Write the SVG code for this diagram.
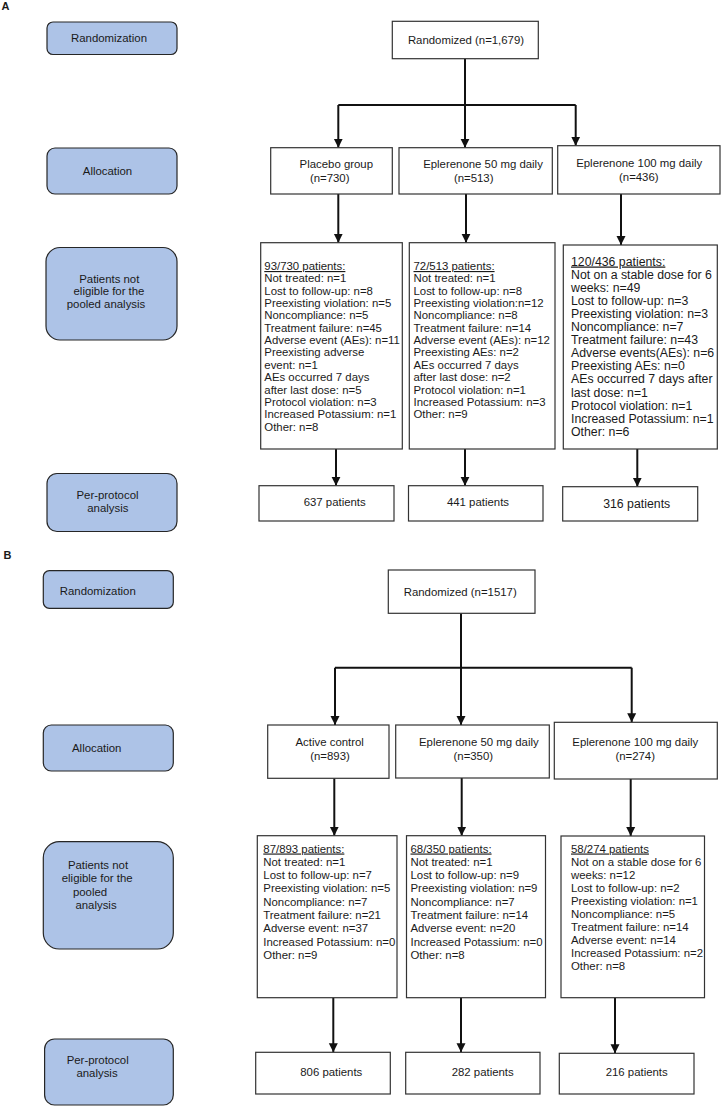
<svg xmlns="http://www.w3.org/2000/svg" width="721" height="1107" viewBox="0 0 721 1107">
<defs>
<style>
.lbl{fill:#adc3e7;stroke:#262626;stroke-width:1.2}
.box{fill:#fff;stroke:#333;stroke-width:1.2}
text{font-family:"Liberation Sans",Arial,sans-serif;font-size:11.4px;fill:#1a1a1a}
.c{text-anchor:middle}
.h{font-weight:bold;font-size:11px}
.u{text-decoration:underline}
.big{font-size:12.3px}
.conn path{stroke:#111;stroke-width:2;fill:none}
</style>
<marker id="ah" markerUnits="userSpaceOnUse" markerWidth="10" markerHeight="10" refX="9" refY="5" orient="auto"><path d="M0,0.5 L9,5 L0,9.5 z" fill="#111"/></marker>
</defs>
<rect width="721" height="1107" fill="#fff"/>

<text class="h" x="1.5" y="10">A</text>
<text class="h" x="3.5" y="559">B</text>

<g id="conn-a" class="conn">
<path d="M465,58.7 V105"/>
<path d="M338.3,105 H575.7"/>
<path d="M338.3,105 V147.7" marker-end="url(#ah)"/>
<path d="M465,105 V147.7" marker-end="url(#ah)"/>
<path d="M575.7,105 V145.7" marker-end="url(#ah)"/>
<path d="M338.3,194 V242.7" marker-end="url(#ah)"/>
<path d="M466,194 V242.7" marker-end="url(#ah)"/>
<path d="M621,194 V245" marker-end="url(#ah)"/>
<path d="M336,449 V485.7" marker-end="url(#ah)"/>
<path d="M465,449 V485.7" marker-end="url(#ah)"/>
<path d="M637.3,449 V486.7" marker-end="url(#ah)"/>
</g>

<g id="conn-b" class="conn">
<path d="M461,613.3 V667.7"/>
<path d="M335,667.7 H631.7"/>
<path d="M335,667.7 V725" marker-end="url(#ah)"/>
<path d="M461,667.7 V725" marker-end="url(#ah)"/>
<path d="M631.7,667.7 V722.3" marker-end="url(#ah)"/>
<path d="M334.3,778.3 V835.7" marker-end="url(#ah)"/>
<path d="M461.7,778 V835.7" marker-end="url(#ah)"/>
<path d="M630.7,779 V836" marker-end="url(#ah)"/>
<path d="M333.3,997.7 V1052.3" marker-end="url(#ah)"/>
<path d="M461,997.7 V1052.3" marker-end="url(#ah)"/>
<path d="M615,997.7 V1053.3" marker-end="url(#ah)"/>
</g>

<!-- Part A labels -->
<g id="a-lbl-rand"><rect class="lbl" x="47" y="22" width="130" height="32.5" rx="6"/><text class="c" x="109" y="42">Randomization</text></g>
<g id="a-lbl-alloc"><rect class="lbl" x="47" y="148" width="130" height="46" rx="8"/><text class="c" x="107.5" y="175">Allocation</text></g>
<g id="a-lbl-excl"><rect class="lbl" x="46" y="247.5" width="131" height="92.5" rx="14"/>
<text class="c" x="109.3" y="282.5">Patients not</text>
<text class="c" x="109" y="295">eligible for the</text>
<text class="c" x="106" y="307.5">pooled analysis</text></g>
<g id="a-lbl-pp"><rect class="lbl" x="47" y="473.5" width="130" height="58" rx="10"/>
<text class="c" x="107.5" y="498.5">Per-protocol</text>
<text class="c" x="107.8" y="511.5">analysis</text></g>

<!-- Part A flow -->
<g id="a-rand"><rect class="box" x="392.3" y="21.3" width="146" height="37.4"/><text class="c" x="466" y="44">Randomized (n=1,679)</text></g>
<g id="a-placebo"><rect class="box" x="270.7" y="147.7" width="121.6" height="46.3"/>
<text class="c" x="336.3" y="168">Placebo group</text><text class="c" x="329.7" y="182">(n=730)</text></g>
<g id="a-ep50"><rect class="box" x="399" y="147.7" width="153.3" height="46.3"/>
<text class="c" x="483" y="168">Eplerenone 50 mg daily</text><text class="c" x="473.7" y="182">(n=513)</text></g>
<g id="a-ep100"><rect class="box" x="557.7" y="145.7" width="162.3" height="48.3"/>
<text class="c" x="639.2" y="167">Eplerenone 100 mg daily</text><text class="c" x="638.8" y="181">(n=436)</text></g>

<g id="a-excl-placebo"><rect class="box" x="260.7" y="242.7" width="141.6" height="206.3"/>
<text x="264.3" y="270"><tspan class="u">93/730 patients:</tspan>
<tspan x="264.3" dy="12.35">Not treated: n=1</tspan>
<tspan x="264.3" dy="12.35">Lost to follow-up: n=8</tspan>
<tspan x="264.3" dy="12.35">Preexisting violation: n=5</tspan>
<tspan x="264.3" dy="12.35">Noncompliance: n=5</tspan>
<tspan x="264.3" dy="12.35">Treatment failure: n=45</tspan>
<tspan x="264.3" dy="12.35">Adverse event (AEs): n=11</tspan>
<tspan x="264.3" dy="12.35">Preexisting adverse</tspan>
<tspan x="264.3" dy="12.35">event: n=1</tspan>
<tspan x="264.3" dy="12.35">AEs occurred 7 days</tspan>
<tspan x="264.3" dy="12.35">after last dose: n=5</tspan>
<tspan x="264.3" dy="12.35">Protocol violation: n=3</tspan>
<tspan x="264.3" dy="12.35">Increased Potassium: n=1</tspan>
<tspan x="264.3" dy="12.35">Other: n=8</tspan></text></g>

<g id="a-excl-ep50"><rect class="box" x="409.3" y="242.7" width="145.7" height="206.3"/>
<text x="413.5" y="270"><tspan class="u">72/513 patients:</tspan>
<tspan x="413.5" dy="12.35">Not treated: n=1</tspan>
<tspan x="413.5" dy="12.35">Lost to follow-up: n=8</tspan>
<tspan x="413.5" dy="12.35">Preexisting violation:n=12</tspan>
<tspan x="413.5" dy="12.35">Noncompliance: n=8</tspan>
<tspan x="413.5" dy="12.35">Treatment failure: n=14</tspan>
<tspan x="413.5" dy="12.35">Adverse event (AEs): n=12</tspan>
<tspan x="413.5" dy="12.35">Preexisting AEs: n=2</tspan>
<tspan x="413.5" dy="12.35">AEs occurred 7 days</tspan>
<tspan x="413.5" dy="12.35">after last dose: n=2</tspan>
<tspan x="413.5" dy="12.35">Protocol violation: n=1</tspan>
<tspan x="413.5" dy="12.35">Increased Potassium: n=3</tspan>
<tspan x="413.5" dy="12.35">Other: n=9</tspan></text></g>

<g id="a-excl-ep100"><rect class="box" x="563.3" y="245" width="154" height="204"/>
<text class="big" x="571" y="265.5"><tspan class="u">120/436 patients:</tspan>
<tspan x="571" dy="13.1">Not on a stable dose for 6</tspan>
<tspan x="571" dy="13.1">weeks: n=49</tspan>
<tspan x="571" dy="13.1">Lost to follow-up: n=3</tspan>
<tspan x="571" dy="13.1">Preexisting violation: n=3</tspan>
<tspan x="571" dy="13.1">Noncompliance: n=7</tspan>
<tspan x="571" dy="13.1">Treatment failure: n=43</tspan>
<tspan x="571" dy="13.1">Adverse events(AEs): n=6</tspan>
<tspan x="571" dy="13.1">Preexisting AEs: n=0</tspan>
<tspan x="571" dy="13.1">AEs occurred 7 days after</tspan>
<tspan x="571" dy="13.1">last dose: n=1</tspan>
<tspan x="571" dy="13.1">Protocol violation: n=1</tspan>
<tspan x="571" dy="13.1">Increased Potassium: n=1</tspan>
<tspan x="571" dy="13.1">Other: n=6</tspan></text></g>

<g id="a-pp-placebo"><rect class="box" x="259" y="485.7" width="135" height="35.3"/><text class="c" x="334.7" y="506">637 patients</text></g>
<g id="a-pp-ep50"><rect class="box" x="408.5" y="485.7" width="134.5" height="35.3"/><text class="c" x="478" y="506">441 patients</text></g>
<g id="a-pp-ep100"><rect class="box" x="562.7" y="486.7" width="135" height="34.3"/><text class="c big" x="636.7" y="508">316 patients</text></g>

<!-- Part B labels -->
<g id="b-lbl-rand"><rect class="lbl" x="43.3" y="570.7" width="130" height="37.6" rx="6"/><text class="c" x="97.8" y="594.5">Randomization</text></g>
<g id="b-lbl-alloc"><rect class="lbl" x="43.3" y="725" width="130" height="46" rx="8"/><text class="c" x="96.7" y="751.5">Allocation</text></g>
<g id="b-lbl-excl"><rect class="lbl" x="43.3" y="841.7" width="130" height="107.3" rx="16"/>
<text class="c" x="98" y="868.5">Patients not</text>
<text class="c" x="97.2" y="882">eligible for the</text>
<text class="c" x="90" y="895.5">pooled</text>
<text class="c" x="96" y="909">analysis</text></g>
<g id="b-lbl-pp"><rect class="lbl" x="44.6" y="1039" width="128.7" height="66" rx="10"/>
<text class="c" x="97.7" y="1064">Per-protocol</text>
<text class="c" x="97" y="1077.3">analysis</text></g>

<!-- Part B flow -->
<g id="b-rand"><rect class="box" x="388.3" y="570" width="146.7" height="43.3"/><text class="c" x="460.2" y="595.5">Randomized (n=1517)</text></g>
<g id="b-active"><rect class="box" x="267.7" y="725" width="121.3" height="53.3"/>
<text class="c" x="329.7" y="746">Active control</text><text class="c" x="330" y="760">(n=893)</text></g>
<g id="b-ep50"><rect class="box" x="395.7" y="725" width="153.6" height="53"/>
<text class="c" x="478.8" y="746">Eplerenone 50 mg daily</text><text class="c" x="473.3" y="760">(n=350)</text></g>
<g id="b-ep100"><rect class="box" x="554.3" y="722.3" width="163" height="56.7"/>
<text class="c" x="635.3" y="746">Eplerenone 100 mg daily</text><text class="c" x="635.2" y="760">(n=274)</text></g>

<g id="b-excl-active"><rect class="box" x="257.3" y="835.7" width="139.7" height="162"/>
<text x="263.3" y="852.5"><tspan class="u">87/893 patients:</tspan>
<tspan x="263.3" dy="13.3">Not treated: n=1</tspan>
<tspan x="263.3" dy="13.3">Lost to follow-up: n=7</tspan>
<tspan x="263.3" dy="13.3">Preexisting violation: n=5</tspan>
<tspan x="263.3" dy="13.3">Noncompliance: n=7</tspan>
<tspan x="263.3" dy="13.3">Treatment failure: n=21</tspan>
<tspan x="263.3" dy="13.3">Adverse event: n=37</tspan>
<tspan x="263.3" dy="13.3">Increased Potassium: n=0</tspan>
<tspan x="263.3" dy="13.3">Other: n=9</tspan></text></g>

<g id="b-excl-ep50"><rect class="box" x="406.5" y="835.7" width="139" height="162"/>
<text x="410.5" y="852.5"><tspan class="u">68/350 patients:</tspan>
<tspan x="410.5" dy="13.3">Not treated: n=1</tspan>
<tspan x="410.5" dy="13.3">Lost to follow-up: n=9</tspan>
<tspan x="410.5" dy="13.3">Preexisting violation: n=9</tspan>
<tspan x="410.5" dy="13.3">Noncompliance: n=7</tspan>
<tspan x="410.5" dy="13.3">Treatment failure: n=14</tspan>
<tspan x="410.5" dy="13.3">Adverse event: n=20</tspan>
<tspan x="410.5" dy="13.3">Increased Potassium: n=0</tspan>
<tspan x="410.5" dy="13.3">Other: n=8</tspan></text></g>

<g id="b-excl-ep100"><rect class="box" x="561" y="836" width="143.5" height="161.7"/>
<text x="571" y="852.5"><tspan class="u">58/274 patients</tspan>
<tspan x="571" dy="13.1">Not on a stable dose for 6</tspan>
<tspan x="571" dy="13.1">weeks: n=12</tspan>
<tspan x="571" dy="13.1">Lost to follow-up: n=2</tspan>
<tspan x="571" dy="13.1">Preexisting violation: n=1</tspan>
<tspan x="571" dy="13.1">Noncompliance: n=5</tspan>
<tspan x="571" dy="13.1">Treatment failure: n=14</tspan>
<tspan x="571" dy="13.1">Adverse event: n=14</tspan>
<tspan x="571" dy="13.1">Increased Potassium: n=2</tspan>
<tspan x="571" dy="13.1">Other: n=8</tspan></text></g>

<g id="b-pp-active"><rect class="box" x="255.7" y="1052.3" width="134.6" height="41.7"/><text class="c" x="331.3" y="1076">806 patients</text></g>
<g id="b-pp-ep50"><rect class="box" x="405.7" y="1052.3" width="134.3" height="41.7"/><text class="c" x="482.7" y="1076">282 patients</text></g>
<g id="b-pp-ep100"><rect class="box" x="559.3" y="1053.3" width="134.7" height="40.7"/><text class="c" x="636.7" y="1076">216 patients</text></g>
</svg>
